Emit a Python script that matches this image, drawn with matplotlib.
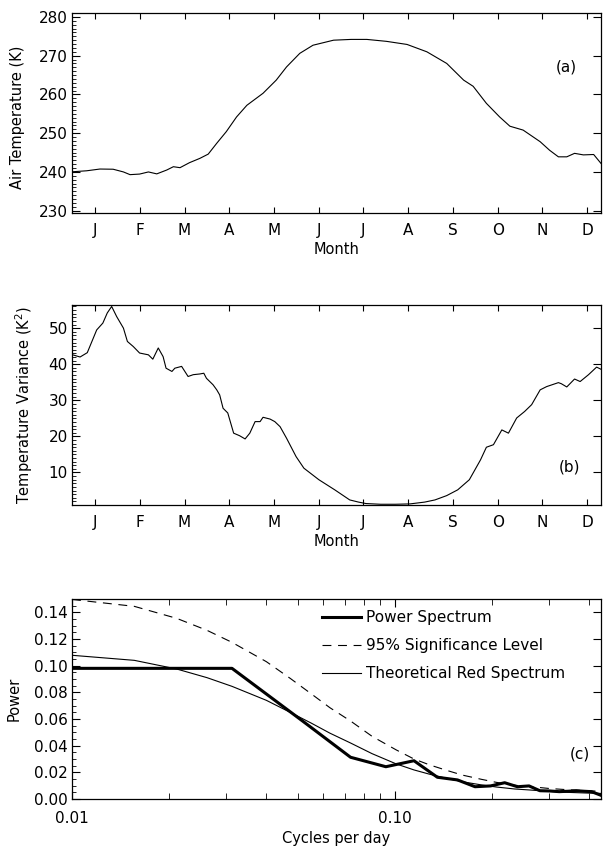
import matplotlib
matplotlib.use("Agg")
import matplotlib.pyplot as plt
from matplotlib.ticker import MultipleLocator, FixedLocator, FixedFormatter, LogLocator, NullFormatter

# (a) air temperature, day of year -> K
temp_day = [0.5, 10, 19, 28, 35, 39.5, 46, 52, 57.7, 64.5, 69, 73.5, 80, 87, 92.7, 98.5,
            105, 112, 119, 130, 139, 146, 155, 164, 178, 190, 200.6, 214, 228, 241.5, 255,
            266.5, 273, 282, 291, 298, 307, 318.6, 325, 331, 336.7, 342, 348, 355, 360]
temp_k = [240.05, 240.3, 240.75, 240.7, 240.0, 239.3, 239.45, 240.0, 239.5, 240.5, 241.35,
          241.1, 242.4, 243.5, 244.6, 247.4, 250.4, 254.2, 257.2, 260.3, 263.7, 267.1, 270.6,
          272.7, 274.0, 274.2, 274.2, 273.7, 272.9, 271.0, 268.0, 263.7, 262.1, 257.7, 254.2,
          251.8, 250.8, 247.8, 245.6, 243.9, 243.9, 244.8, 244.4, 244.5, 242.2]

# (b) temperature variance, day of year -> K^2
var_day = [0.5, 5.5, 10.4, 16.8, 21, 24, 27, 30.4, 35, 37.7, 41.7, 46, 52, 55, 58.7, 62, 64,
           68, 70, 74.6, 79, 82.5, 87, 89.7, 91.5, 96, 98.5, 100.5, 102.8, 106, 110, 114,
           117.8, 121, 124.6, 128, 130, 134.8, 138, 141.6, 146, 152.5, 157.8, 168, 178.8,
           189, 195, 200, 210, 220, 230, 240, 247, 255, 262.5, 270.4, 278, 282, 286.8,
           292.5, 297, 302.6, 308, 312.8, 318.6, 323, 331, 333, 336.7, 342, 345.8, 351.5,
           357, 361]
var_k2 = [42.6, 42.0, 43.2, 49.5, 51.4, 54.2, 56.0, 53.2, 50.0, 46.3, 44.9, 43.1, 42.6, 41.4,
          44.5, 42.1, 38.9, 38.0, 38.9, 39.4, 36.6, 37.1, 37.3, 37.5, 36.1, 34.3, 32.9, 31.5,
          27.8, 26.5, 20.9, 20.2, 19.3, 20.9, 24.1, 24.1, 25.3, 24.8, 24.1, 22.7, 19.5, 14.4,
          11.2, 8.0, 5.2, 2.4, 1.8, 1.4, 1.2, 1.2, 1.3, 1.8, 2.4, 3.6, 5.2, 8.0, 13.5, 17.0,
          17.7, 21.8, 20.9, 25.1, 26.9, 28.8, 32.9, 33.8, 34.9, 34.6, 33.7, 35.9, 35.2, 37.1,
          39.2, 38.4]

month_pos = [15.7, 46.1, 76.6, 107.0, 137.5, 167.9, 198.3, 228.8, 259.2, 289.7, 320.1, 350.5]
month_lbl = ["J", "F", "M", "A", "M", "J", "J", "A", "S", "O", "N", "D"]

# (c) spectra, cycles per day -> power
spec_freq = [0.0100, 0.0313, 0.0521, 0.0729, 0.0938, 0.1146, 0.1354, 0.1563, 0.1771, 0.1979,
             0.2188, 0.2396, 0.2604, 0.2813, 0.3021, 0.3229, 0.3438, 0.3646, 0.3854, 0.4063,
             0.4271, 0.4479]
spec_power = [0.098, 0.098, 0.058, 0.0313, 0.0242, 0.0287, 0.0163, 0.0143, 0.0092, 0.0098,
              0.0122, 0.0092, 0.0098, 0.0062, 0.0060, 0.0055, 0.0058, 0.0062, 0.0058, 0.0055,
              0.0035, 0.0015]
red_freq = [0.0100, 0.0156, 0.0211, 0.0262, 0.0313, 0.0400, 0.0474, 0.0550, 0.0629, 0.0729,
            0.0850, 0.101, 0.1146, 0.128, 0.145, 0.162, 0.185, 0.206, 0.235, 0.26, 0.30,
            0.35, 0.40, 0.448]
red_power = [0.1078, 0.1040, 0.0975, 0.0910, 0.0845, 0.0740, 0.0650, 0.0570, 0.0494, 0.0420,
             0.0340, 0.0263, 0.0218, 0.0186, 0.0154, 0.0129, 0.0106, 0.0090, 0.0075, 0.0068,
             0.0057, 0.0049, 0.0044, 0.0041]
sig95_power = [0.1497, 0.1445, 0.1355, 0.1265, 0.1175, 0.1030, 0.0905, 0.0790, 0.0685, 0.0585,
               0.0470, 0.0368, 0.0300, 0.0256, 0.0214, 0.0179, 0.0148, 0.0125, 0.0103, 0.0094,
               0.0079, 0.0068, 0.0061, 0.0057]

plt.rcParams["font.family"] = "DejaVu Sans"
plt.rcParams["font.size"] = 10.5
plt.rcParams["axes.linewidth"] = 0.9

fig = plt.figure(figsize=(6.03, 8.48), dpi=100)
ax_a = fig.add_axes([0.1194, 0.7488, 0.8773, 0.2358])
ax_b = fig.add_axes([0.1194, 0.4045, 0.8773, 0.2358])
ax_c = fig.add_axes([0.1194, 0.0578, 0.8773, 0.2358])


def month_axis(ax):
    ax.set_xlim(0, 360)
    ax.xaxis.set_major_locator(FixedLocator(month_pos))
    ax.xaxis.set_major_formatter(FixedFormatter(month_lbl))
    ax.yaxis.set_minor_locator(MultipleLocator(1))
    ax.tick_params(which="both", direction="in", top=True, right=True, labelsize=11)
    ax.tick_params(axis="x", which="major", length=4, width=0.8, pad=7)
    ax.tick_params(axis="y", which="major", length=6, width=0.8, pad=3)
    ax.tick_params(axis="y", which="minor", length=3, width=0.6, right=False)
    ax.set_xlabel("Month", labelpad=3)


# (a)
ax_a.plot(temp_day, temp_k, color="black", lw=0.8)
ax_a.set_ylim(229.4, 281.0)
ax_a.yaxis.set_major_locator(MultipleLocator(10))
month_axis(ax_a)
ax_a.set_ylabel("Air Temperature (K)")
ax_a.yaxis.set_label_coords(-0.088, 0.48)
ax_a.text(0.935, 0.73, "(a)", transform=ax_a.transAxes, ha="center", va="center", fontsize=11)

# (b)
ax_b.plot(var_day, var_k2, color="black", lw=0.8)
ax_b.set_ylim(1.0, 56.4)
ax_b.yaxis.set_major_locator(FixedLocator([10, 20, 30, 40, 50]))
month_axis(ax_b)
ax_b.set_ylabel("Temperature Variance (K$^2$)")
ax_b.yaxis.set_label_coords(-0.07, 0.5)
ax_b.text(0.94, 0.19, "(b)", transform=ax_b.transAxes, ha="center", va="center", fontsize=11)

# (c)
ax_c.plot(spec_freq, spec_power, color="black", lw=2.2, label="Power Spectrum")
ax_c.plot(red_freq, sig95_power, color="black", lw=0.8, linestyle=(0, (8, 6)),
          label="95% Significance Level")
ax_c.plot(red_freq, red_power, color="black", lw=0.8, label="Theoretical Red Spectrum")
ax_c.set_xscale("log")
ax_c.set_xlim(0.01, 0.435)
ax_c.set_ylim(0.0, 0.15)
ax_c.xaxis.set_major_locator(FixedLocator([0.01, 0.1]))
ax_c.xaxis.set_major_formatter(FixedFormatter(["0.01", "0.10"]))
ax_c.xaxis.set_minor_locator(LogLocator(base=10, subs=(2, 3, 4, 5, 6, 7, 8, 9)))
ax_c.xaxis.set_minor_formatter(NullFormatter())
ax_c.yaxis.set_major_locator(MultipleLocator(0.02))
ax_c.yaxis.set_minor_locator(MultipleLocator(0.005))
ax_c.yaxis.set_major_formatter(plt.FormatStrFormatter("%.2f"))
ax_c.tick_params(which="both", direction="in", top=True, right=True, labelsize=11)
ax_c.tick_params(axis="x", which="major", length=6, width=0.8, pad=9)
ax_c.tick_params(axis="x", which="minor", length=4, width=0.6)
ax_c.tick_params(axis="y", which="major", length=6, width=0.8, pad=3)
ax_c.tick_params(axis="y", which="minor", length=3, width=0.6, right=False)
ax_c.set_xlabel("Cycles per day", labelpad=3)
ax_c.set_ylabel("Power")
ax_c.yaxis.set_label_coords(-0.095, 0.5)
ax_c.text(0.96, 0.225, "(c)", transform=ax_c.transAxes, ha="center", va="center", fontsize=11)
ax_c.legend(loc="upper left", bbox_to_anchor=(0.472, 0.945), frameon=False, fontsize=11,
            handlelength=2.6, handletextpad=0.3, labelspacing=0.85, borderpad=0,
            borderaxespad=0)

fig.savefig("out.png", dpi=100)
